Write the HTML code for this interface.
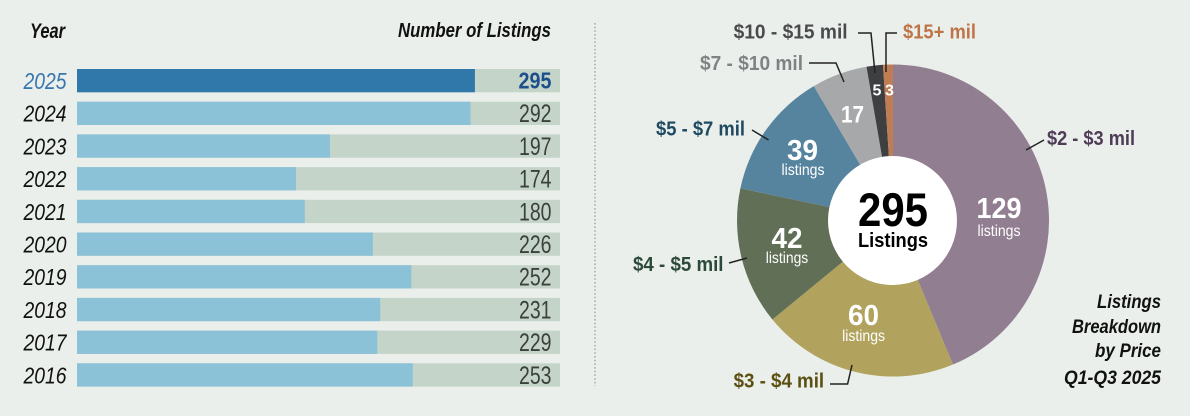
<!DOCTYPE html>
<html>
<head>
<meta charset="utf-8">
<style>
html,body{margin:0;padding:0;background:#eaefeb;}
svg{display:block;}
text{font-family:"Liberation Sans Narrow","Liberation Sans",sans-serif;}
</style>
</head>
<body>
<svg width="1190" height="416" viewBox="0 0 1190 416" xmlns="http://www.w3.org/2000/svg">
<rect x="0" y="0" width="1190" height="416" fill="#eaefeb"/>

<!-- Headers -->
<text x="30" y="38" font-size="21" font-weight="bold" font-style="italic" fill="#111" textLength="35" lengthAdjust="spacingAndGlyphs">Year</text>
<text x="551" y="37" font-size="20" font-weight="bold" font-style="italic" fill="#111" text-anchor="end" textLength="153" lengthAdjust="spacingAndGlyphs">Number of Listings</text>

<!-- Bars -->
<g>
<rect x="77" y="69" width="483" height="23.3" fill="#c4d4c9"/>
<rect x="77" y="69" width="397.9" height="23.3" fill="#3077aa"/>
<text x="66.5" y="89" font-size="23" font-style="italic" fill="#3677ae" text-anchor="end" textLength="43" lengthAdjust="spacingAndGlyphs">2025</text>
<text x="551.5" y="88.5" font-size="23" font-weight="bold" fill="#1d4f8a" text-anchor="end" textLength="33" lengthAdjust="spacingAndGlyphs">295</text>

<rect x="77" y="101.7" width="483" height="23.3" fill="#c4d4c9"/>
<rect x="77" y="101.7" width="393.5" height="23.3" fill="#8cc2d7"/>
<text x="66.5" y="121.7" font-size="23" font-style="italic" fill="#111" text-anchor="end" textLength="43" lengthAdjust="spacingAndGlyphs">2024</text>
<text x="551.5" y="122.2" font-size="25" fill="#3b403d" text-anchor="end" textLength="32.5" lengthAdjust="spacingAndGlyphs">292</text>

<rect x="77" y="134.4" width="483" height="23.3" fill="#c4d4c9"/>
<rect x="77" y="134.4" width="253" height="23.3" fill="#8cc2d7"/>
<text x="66.5" y="154.4" font-size="23" font-style="italic" fill="#111" text-anchor="end" textLength="43" lengthAdjust="spacingAndGlyphs">2023</text>
<text x="551.5" y="154.9" font-size="25" fill="#3b403d" text-anchor="end" textLength="32.5" lengthAdjust="spacingAndGlyphs">197</text>

<rect x="77" y="167.1" width="483" height="23.3" fill="#c4d4c9"/>
<rect x="77" y="167.1" width="219" height="23.3" fill="#8cc2d7"/>
<text x="66.5" y="187.1" font-size="23" font-style="italic" fill="#111" text-anchor="end" textLength="43" lengthAdjust="spacingAndGlyphs">2022</text>
<text x="551.5" y="187.6" font-size="25" fill="#3b403d" text-anchor="end" textLength="32.5" lengthAdjust="spacingAndGlyphs">174</text>

<rect x="77" y="199.8" width="483" height="23.3" fill="#c4d4c9"/>
<rect x="77" y="199.8" width="227.8" height="23.3" fill="#8cc2d7"/>
<text x="66.5" y="219.8" font-size="23" font-style="italic" fill="#111" text-anchor="end" textLength="43" lengthAdjust="spacingAndGlyphs">2021</text>
<text x="551.5" y="220.3" font-size="25" fill="#3b403d" text-anchor="end" textLength="32.5" lengthAdjust="spacingAndGlyphs">180</text>

<rect x="77" y="232.5" width="483" height="23.3" fill="#c4d4c9"/>
<rect x="77" y="232.5" width="295.9" height="23.3" fill="#8cc2d7"/>
<text x="66.5" y="252.5" font-size="23" font-style="italic" fill="#111" text-anchor="end" textLength="43" lengthAdjust="spacingAndGlyphs">2020</text>
<text x="551.5" y="253" font-size="25" fill="#3b403d" text-anchor="end" textLength="32.5" lengthAdjust="spacingAndGlyphs">226</text>

<rect x="77" y="265.2" width="483" height="23.3" fill="#c4d4c9"/>
<rect x="77" y="265.2" width="334.3" height="23.3" fill="#8cc2d7"/>
<text x="66.5" y="285.2" font-size="23" font-style="italic" fill="#111" text-anchor="end" textLength="43" lengthAdjust="spacingAndGlyphs">2019</text>
<text x="551.5" y="285.7" font-size="25" fill="#3b403d" text-anchor="end" textLength="32.5" lengthAdjust="spacingAndGlyphs">252</text>

<rect x="77" y="297.9" width="483" height="23.3" fill="#c4d4c9"/>
<rect x="77" y="297.9" width="303.2" height="23.3" fill="#8cc2d7"/>
<text x="66.5" y="317.9" font-size="23" font-style="italic" fill="#111" text-anchor="end" textLength="43" lengthAdjust="spacingAndGlyphs">2018</text>
<text x="551.5" y="318.4" font-size="25" fill="#3b403d" text-anchor="end" textLength="32.5" lengthAdjust="spacingAndGlyphs">231</text>

<rect x="77" y="330.6" width="483" height="23.3" fill="#c4d4c9"/>
<rect x="77" y="330.6" width="300.3" height="23.3" fill="#8cc2d7"/>
<text x="66.5" y="350.6" font-size="23" font-style="italic" fill="#111" text-anchor="end" textLength="43" lengthAdjust="spacingAndGlyphs">2017</text>
<text x="551.5" y="351.1" font-size="25" fill="#3b403d" text-anchor="end" textLength="32.5" lengthAdjust="spacingAndGlyphs">229</text>

<rect x="77" y="363.3" width="483" height="23.3" fill="#c4d4c9"/>
<rect x="77" y="363.3" width="335.8" height="23.3" fill="#8cc2d7"/>
<text x="66.5" y="383.3" font-size="23" font-style="italic" fill="#111" text-anchor="end" textLength="43" lengthAdjust="spacingAndGlyphs">2016</text>
<text x="551.5" y="383.8" font-size="25" fill="#3b403d" text-anchor="end" textLength="32.5" lengthAdjust="spacingAndGlyphs">253</text>
</g>

<!-- Divider -->
<line x1="595" y1="23" x2="595" y2="386" stroke="#a3a8a5" stroke-width="1.5" stroke-dasharray="1.5,2.2"/>

<!-- Pie -->
<g>
<path d="M893,220.5 L893,64.5 A156,156 0 0 1 952.9,364.55 Z" fill="#927e91"/>
<path d="M893,220.5 L952.9,364.55 A156,156 0 0 1 772.4,319.5 Z" fill="#b1a25d"/>
<path d="M893,220.5 L772.4,319.5 A156,156 0 0 1 740.4,188.3 Z" fill="#606f56"/>
<path d="M893,220.5 L740.4,188.3 A156,156 0 0 1 813.8,86.1 Z" fill="#56839d"/>
<path d="M893,220.5 L813.8,86.1 A156,156 0 0 1 866.5,66.8 Z" fill="#a7a8aa"/>
<path d="M893,220.5 L866.5,66.8 A156,156 0 0 1 883,64.8 Z" fill="#3e3f41"/>
<path d="M893,220.5 L883,64.8 A156,156 0 0 1 893,64.5 Z" fill="#c07c53"/>
<circle cx="892.5" cy="220.5" r="64.5" fill="#ffffff"/>
</g>

<!-- Center label -->
<text x="893" y="226" font-size="47" font-weight="bold" fill="#000" text-anchor="middle" textLength="70" lengthAdjust="spacingAndGlyphs">295</text>
<text x="893" y="247" font-size="20" font-weight="bold" fill="#000" text-anchor="middle" textLength="70" lengthAdjust="spacingAndGlyphs">Listings</text>

<!-- Slice inner labels -->
<g fill="#ffffff" text-anchor="middle">
<text x="999" y="218" font-size="29" font-weight="bold" textLength="45" lengthAdjust="spacingAndGlyphs">129</text>
<text x="999" y="236" font-size="16" textLength="43" lengthAdjust="spacingAndGlyphs">listings</text>
<text x="863.5" y="325" font-size="29" font-weight="bold" textLength="31" lengthAdjust="spacingAndGlyphs">60</text>
<text x="863.6" y="341" font-size="16" textLength="43" lengthAdjust="spacingAndGlyphs">listings</text>
<text x="787" y="248" font-size="29" font-weight="bold" textLength="31" lengthAdjust="spacingAndGlyphs">42</text>
<text x="787" y="263" font-size="16" textLength="42.5" lengthAdjust="spacingAndGlyphs">listings</text>
<text x="802.5" y="160" font-size="29" font-weight="bold" textLength="31" lengthAdjust="spacingAndGlyphs">39</text>
<text x="803" y="175" font-size="16" textLength="43" lengthAdjust="spacingAndGlyphs">listings</text>
<text x="852.5" y="122.5" font-size="24" font-weight="bold" textLength="23" lengthAdjust="spacingAndGlyphs">17</text>
<text x="877" y="95.5" font-size="16" font-weight="bold">5</text>
<text x="889.5" y="95.5" font-size="16" font-weight="bold">3</text>
</g>

<!-- Outer labels -->
<g font-size="20" font-weight="bold">
<text x="733.6" y="38.5" fill="#4a4a4c" textLength="114" lengthAdjust="spacingAndGlyphs">$10 - $15 mil</text>
<text x="903" y="38.5" fill="#bf7447" textLength="73" lengthAdjust="spacingAndGlyphs">$15+ mil</text>
<text x="700" y="70" fill="#808284" textLength="103" lengthAdjust="spacingAndGlyphs">$7 - $10 mil</text>
<text x="656" y="135.5" fill="#1f4a60" textLength="89" lengthAdjust="spacingAndGlyphs">$5 - $7 mil</text>
<text x="1047" y="145" fill="#4e3b56" textLength="88" lengthAdjust="spacingAndGlyphs">$2 - $3 mil</text>
<text x="633" y="271" fill="#2c4a3a" textLength="90.5" lengthAdjust="spacingAndGlyphs">$4 - $5 mil</text>
<text x="733.6" y="387.5" fill="#5b4f12" textLength="90.5" lengthAdjust="spacingAndGlyphs">$3 - $4 mil</text>
</g>

<!-- Leader lines -->
<g fill="none" stroke="#222" stroke-width="1.5">
<polyline points="858,33 871,33 875,73"/>
<polyline points="897,33 886,33 886,72"/>
<polyline points="809,63 836,63 844,82"/>
<polyline points="752,130 768.6,140"/>
<polyline points="1044,140 1026,150"/>
<polyline points="729,263 747,258"/>
<polyline points="830,384 847.6,384 852,365"/>
</g>

<!-- Caption -->
<g font-size="19" font-weight="bold" font-style="italic" fill="#111" text-anchor="end">
<text x="1161" y="308" textLength="64" lengthAdjust="spacingAndGlyphs">Listings</text>
<text x="1161" y="333" textLength="89" lengthAdjust="spacingAndGlyphs">Breakdown</text>
<text x="1161" y="357" textLength="66" lengthAdjust="spacingAndGlyphs">by Price</text>
<text x="1161" y="384" textLength="97" lengthAdjust="spacingAndGlyphs">Q1-Q3 2025</text>
</g>
</svg>
</body>
</html>
